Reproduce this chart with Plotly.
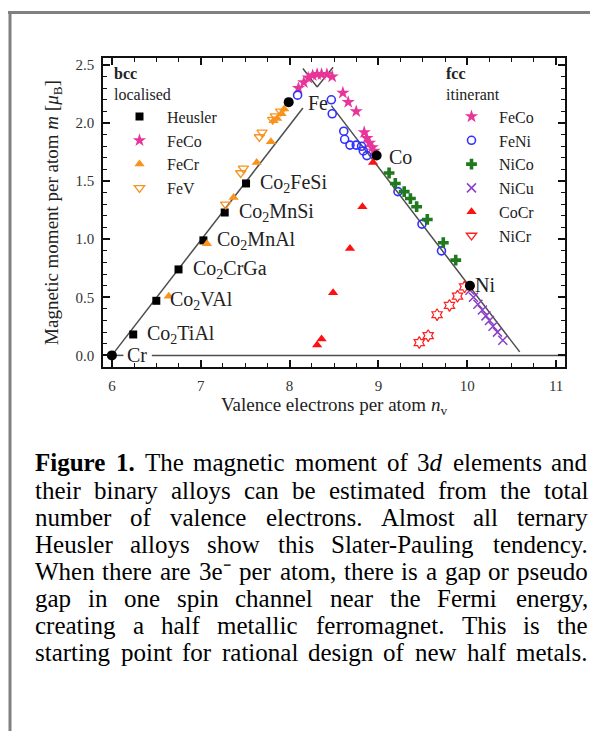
import re
import plotly.graph_objects as go

# ---- data ----
heusler_names = ["Co<sub>2</sub>TiAl", "Co<sub>2</sub>VAl", "Co<sub>2</sub>CrGa",
                 "Co<sub>2</sub>MnAl", "Co<sub>2</sub>MnSi", "Co<sub>2</sub>FeSi"]
heusler_x = [6.24, 6.50, 6.75, 7.03, 7.27, 7.51]
heusler_y = [0.18, 0.47, 0.74, 0.99, 1.23, 1.48]

elem_names = ["Cr", "Fe", "Co", "Ni"]
elem_x = [6.00, 7.99, 8.98, 10.03]
elem_y = [0.00, 2.18, 1.72, 0.60]

feco_bcc_x = [8.10, 8.16, 8.21, 8.26, 8.31, 8.36, 8.42, 8.48, 8.60, 8.66, 8.75]
feco_bcc_y = [2.30, 2.35, 2.39, 2.41, 2.42, 2.42, 2.42, 2.40, 2.26, 2.18, 2.10]
fecr_x = [6.64, 7.07, 7.37, 7.63, 7.79, 7.82, 7.86, 7.91, 7.94]
fecr_y = [0.51, 0.96, 1.36, 1.66, 1.84, 2.02, 2.04, 2.08, 2.12]
fev_x = [7.28, 7.45, 7.48, 7.66, 7.69, 7.81, 7.84, 7.90]
fev_y = [1.30, 1.57, 1.61, 1.88, 1.92, 2.03, 2.06, 2.10]

feco_fcc_x = [8.84, 8.87, 8.90, 8.93, 8.95]
feco_fcc_y = [1.92, 1.87, 1.83, 1.79, 1.76]
feni_x = [8.09, 8.47, 8.48, 8.61, 8.62, 8.68, 8.75, 8.81, 8.83, 8.87, 9.22, 9.49, 9.71]
feni_y = [2.24, 2.20, 2.08, 1.93, 1.86, 1.81, 1.81, 1.80, 1.76, 1.72, 1.41, 1.13, 0.90]
nico_x = [9.12, 9.19, 9.29, 9.36, 9.43, 9.55, 9.73, 9.87]
nico_y = [1.57, 1.48, 1.41, 1.35, 1.28, 1.17, 0.97, 0.82]
nicu_x = [10.03, 10.07, 10.12, 10.17, 10.21, 10.25, 10.29, 10.34, 10.40]
nicu_y = [0.56, 0.50, 0.44, 0.39, 0.34, 0.30, 0.25, 0.20, 0.13]
cocr_x = [8.31, 8.36, 8.49, 8.68, 8.82, 8.94]
cocr_y = [0.09, 0.14, 0.54, 0.92, 1.28, 1.66]
nicr_x = [9.46, 9.56, 9.66, 9.80, 9.89, 9.97]
nicr_y = [0.11, 0.17, 0.35, 0.43, 0.51, 0.59]

# Slater-Pauling guide lines (gaps where the Fe / Cr labels sit)
sp_bcc_x = [6.00, 8.15, None, 8.31, 8.49]
sp_bcc_y = [0.00, 2.13, None, 2.31, 2.48]
sp_fcc_x = [8.15, 8.31, None, 8.47, 10.59]
sp_fcc_y = [2.47, 2.31, None, 2.15, 0.03]
base_x = [6.00, 6.13, None, 6.45, 11.10]
base_y = [0, 0, None, 0, 0]

caption_lines = [
    "<b>Figure</b> <b>1.</b> The magnetic moment of 3<i>d</i> elements and",
    "their binary alloys can be estimated from the total",
    "number of valence electrons. Almost all ternary",
    "Heusler alloys show this Slater-Pauling tendency.",
    "When there are 3e\u207b per atom, there is a gap or pseudo",
    "gap in one spin channel near the Fermi energy,",
    "creating a half metallic ferromagnet. This is the",
    "starting point for rational design of new half metals.",
]

SERIF = "Liberation Serif"
PAGE_OFF = 8                      # body margin of the page around the plot div
W, H = 598 - PAGE_OFF, 731 - PAGE_OFF
# plot area in page pixels
PL, PR, PT, PB = 103, 565, 58, 367
ML, MR, MT, MB = PL - PAGE_OFF, W - (PR - PAGE_OFF), PT - PAGE_OFF, H - (PB - PAGE_OFF)


def px2x(px):
    return (px - PL) / (PR - PL)


def py2y(py):
    return (PB - py) / (PB - PT)


fig = go.Figure()

line_style = dict(color="#4d4d4d", width=1.5)
for lx, ly in [(sp_bcc_x, sp_bcc_y), (sp_fcc_x, sp_fcc_y), (base_x, base_y)]:
    fig.add_trace(go.Scatter(x=lx, y=ly, mode="lines", line=line_style,
                             showlegend=False, hoverinfo="skip"))

# bcc / localised
fig.add_trace(go.Scatter(x=heusler_x, y=heusler_y, mode="markers", name="Heusler",
                         marker=dict(symbol="square", size=8, color="black"), legend="legend"))
fig.add_trace(go.Scatter(x=feco_bcc_x, y=feco_bcc_y, mode="markers", name="FeCo",
                         marker=dict(symbol="star", size=10, color="#e8359a"), legend="legend"))
fig.add_trace(go.Scatter(x=fecr_x, y=fecr_y, mode="markers", name="FeCr",
                         marker=dict(symbol="triangle-up", size=9, color="#f7931e"), legend="legend"))
fig.add_trace(go.Scatter(x=fev_x, y=fev_y, mode="markers", name="FeV",
                         marker=dict(symbol="triangle-down-open", size=9, color="#f7931e",
                                     line=dict(width=1.3)), legend="legend"))

# fcc / itinerant
fig.add_trace(go.Scatter(x=feco_fcc_x, y=feco_fcc_y, mode="markers", name="FeCo",
                         marker=dict(symbol="star", size=10, color="#e8359a"), legend="legend2"))
fig.add_trace(go.Scatter(x=feni_x, y=feni_y, mode="markers", name="FeNi",
                         marker=dict(symbol="circle-open", size=8, color="#3030ff",
                                     line=dict(width=1.6)), legend="legend2"))
fig.add_trace(go.Scatter(x=nico_x, y=nico_y, mode="markers", name="NiCo",
                         marker=dict(symbol="cross", size=9, color="#1f7a1f"), legend="legend2"))
fig.add_trace(go.Scatter(x=nicu_x, y=nicu_y, mode="markers", name="NiCu",
                         marker=dict(symbol="x-thin", size=9, color="#8a3fc7",
                                     line=dict(width=1.5, color="#8a3fc7")), legend="legend2"))
fig.add_trace(go.Scatter(x=cocr_x, y=cocr_y, mode="markers", name="CoCr",
                         marker=dict(symbol="triangle-up", size=9, color="#ff1010"), legend="legend2"))
fig.add_trace(go.Scatter(x=nicr_x, y=nicr_y, mode="markers", name="NiCr", showlegend=False,
                         marker=dict(symbol="hexagram-open", size=9, color="#ff2020",
                                     line=dict(width=1.2))))
fig.add_trace(go.Scatter(x=[None], y=[None], mode="markers", name="NiCr",
                         marker=dict(symbol="triangle-down-open", size=9, color="#ff2020",
                                     line=dict(width=1.3)), legend="legend2"))

# pure elements
fig.add_trace(go.Scatter(x=elem_x, y=elem_y, mode="markers", showlegend=False,
                         marker=dict(symbol="circle", size=10, color="black")))

annotations = []
lab_font = dict(family=SERIF, size=20, color="#222")
for name, hx, hy in zip(heusler_names, heusler_x, heusler_y):
    annotations.append(dict(x=hx, y=hy, text=name, showarrow=False, xanchor="left",
                            yanchor="middle", xshift=12, font=lab_font))
elem_pos = {"Cr": (6.15, 0.0), "Fe": (8.19, 2.17), "Co": (9.10, 1.71), "Ni": (10.07, 0.61)}
for name in elem_names:
    ex, ey = elem_pos[name]
    annotations.append(dict(x=ex, y=ey, text=name, showarrow=False, xanchor="left",
                            yanchor="middle", font=lab_font))

# caption, justified word by word using Times metrics
W_REG = dict(zip("abcdefghijklmnopqrstuvwxyz",
                 [444, 500, 444, 500, 444, 333, 500, 500, 278, 278, 500, 278, 778,
                  500, 500, 500, 500, 333, 389, 278, 500, 500, 722, 500, 500, 444]))
W_REG.update(zip("ABCDEFGHIJKLMNOPQRSTUVWXYZ",
                 [722, 667, 667, 722, 611, 556, 722, 722, 333, 389, 722, 611, 889,
                  722, 722, 556, 722, 667, 556, 611, 722, 722, 944, 722, 722, 611]))
W_REG.update({c: 500 for c in "0123456789"})
W_REG.update({".": 250, ",": 250, "-": 333, "\u207b": 400})
W_BOLD = {"F": 611, "i": 278, "g": 500, "u": 556, "r": 444, "e": 444, "1": 500, ".": 250}


def word_width(word, size):
    total, bold = 0, False
    for tok in re.split(r"(<[^>]+>)", word):
        if tok.startswith("<"):
            if tok.strip("</>") == "b":
                bold = not tok.startswith("</")
            continue
        for ch in tok:
            total += (W_BOLD if bold else W_REG).get(ch, 500)
    return total * size / 1000


CAP_L, CAP_R, CAP_Y0, CAP_DY, CAP_SIZE = 35, 588, 463, 27, 25
cap_font = dict(family=SERIF, size=CAP_SIZE, color="black")
for i, line in enumerate(caption_lines):
    words = line.split(" ")
    widths = [word_width(w, CAP_SIZE) for w in words]
    gap = (CAP_R - CAP_L - sum(widths)) / (len(words) - 1)
    xpos = CAP_L
    for k, (w, wd) in enumerate(zip(words, widths)):
        if k == 0:
            ax, anchor = xpos, "left"
        elif k == len(words) - 1:
            ax, anchor = CAP_R, "right"
        else:
            ax, anchor = xpos + wd / 2, "center"
        annotations.append(dict(x=px2x(ax), y=py2y(CAP_Y0 + i * CAP_DY), xref="paper", yref="paper",
                                text=w, showarrow=False, xanchor=anchor, yanchor="middle",
                                borderpad=0, borderwidth=0, font=cap_font))
        xpos += wd + gap

# grey page frame (top and left)
shapes = [
    dict(type="line", xref="paper", yref="paper", x0=px2x(8), x1=px2x(605), y0=py2y(12.5), y1=py2y(12.5),
         line=dict(color="#808080", width=3)),
    dict(type="line", xref="paper", yref="paper", x0=px2x(10), x1=px2x(10), y0=py2y(11), y1=py2y(740),
         line=dict(color="#808080", width=3)),
]

axis_common = dict(showline=True, linecolor="#111", linewidth=1.5, mirror="allticks",
                   ticks="inside", ticklen=7, tickwidth=1.5, tickcolor="#111",
                   showgrid=False, zeroline=False, automargin=False,
                   tickfont=dict(family=SERIF, size=15, color="#333"))

leg_font = dict(family=SERIF, size=16, color="#222")
fig.update_layout(
    template="none",
    width=W, height=H,
    margin=dict(l=ML, r=MR, t=MT, b=MB),
    paper_bgcolor="white", plot_bgcolor="white",
    xaxis=dict(range=[5.9, 11.1], dtick=1, tick0=6, ticklabelstandoff=4,
               minor=dict(dtick=0.25, ticks="inside", ticklen=4, tickwidth=1.2, tickcolor="#111"),
               title=dict(text="Valence electrons per atom <i>n</i><sub>v</sub>", standoff=4,
                          font=dict(family=SERIF, size=19, color="#222")),
               **axis_common),
    yaxis=dict(range=[-0.1, 2.56], dtick=0.5, tick0=0, tickformat=".1f", ticklabelstandoff=4,
               minor=dict(dtick=0.1, ticks="inside", ticklen=4, tickwidth=1.2, tickcolor="#111"),
               title=dict(text="Magnetic moment per atom <i>m</i> [<i>μ</i><sub>B</sub>]", standoff=12,
                          font=dict(family=SERIF, size=19, color="#222")),
               **axis_common),
    legend=dict(x=px2x(112), y=py2y(58), xanchor="left", yanchor="top", bgcolor="rgba(0,0,0,0)",
                itemwidth=45, font=leg_font,
                title=dict(text="<b>bcc</b><br>localised", font=leg_font)),
    legend2=dict(x=px2x(444), y=py2y(58), xanchor="left", yanchor="top", bgcolor="rgba(0,0,0,0)",
                 itemwidth=45, font=leg_font,
                 title=dict(text="<b>fcc</b><br>itinerant", font=leg_font)),
    annotations=annotations,
    shapes=shapes,
)

fig.write_html("out.html")
